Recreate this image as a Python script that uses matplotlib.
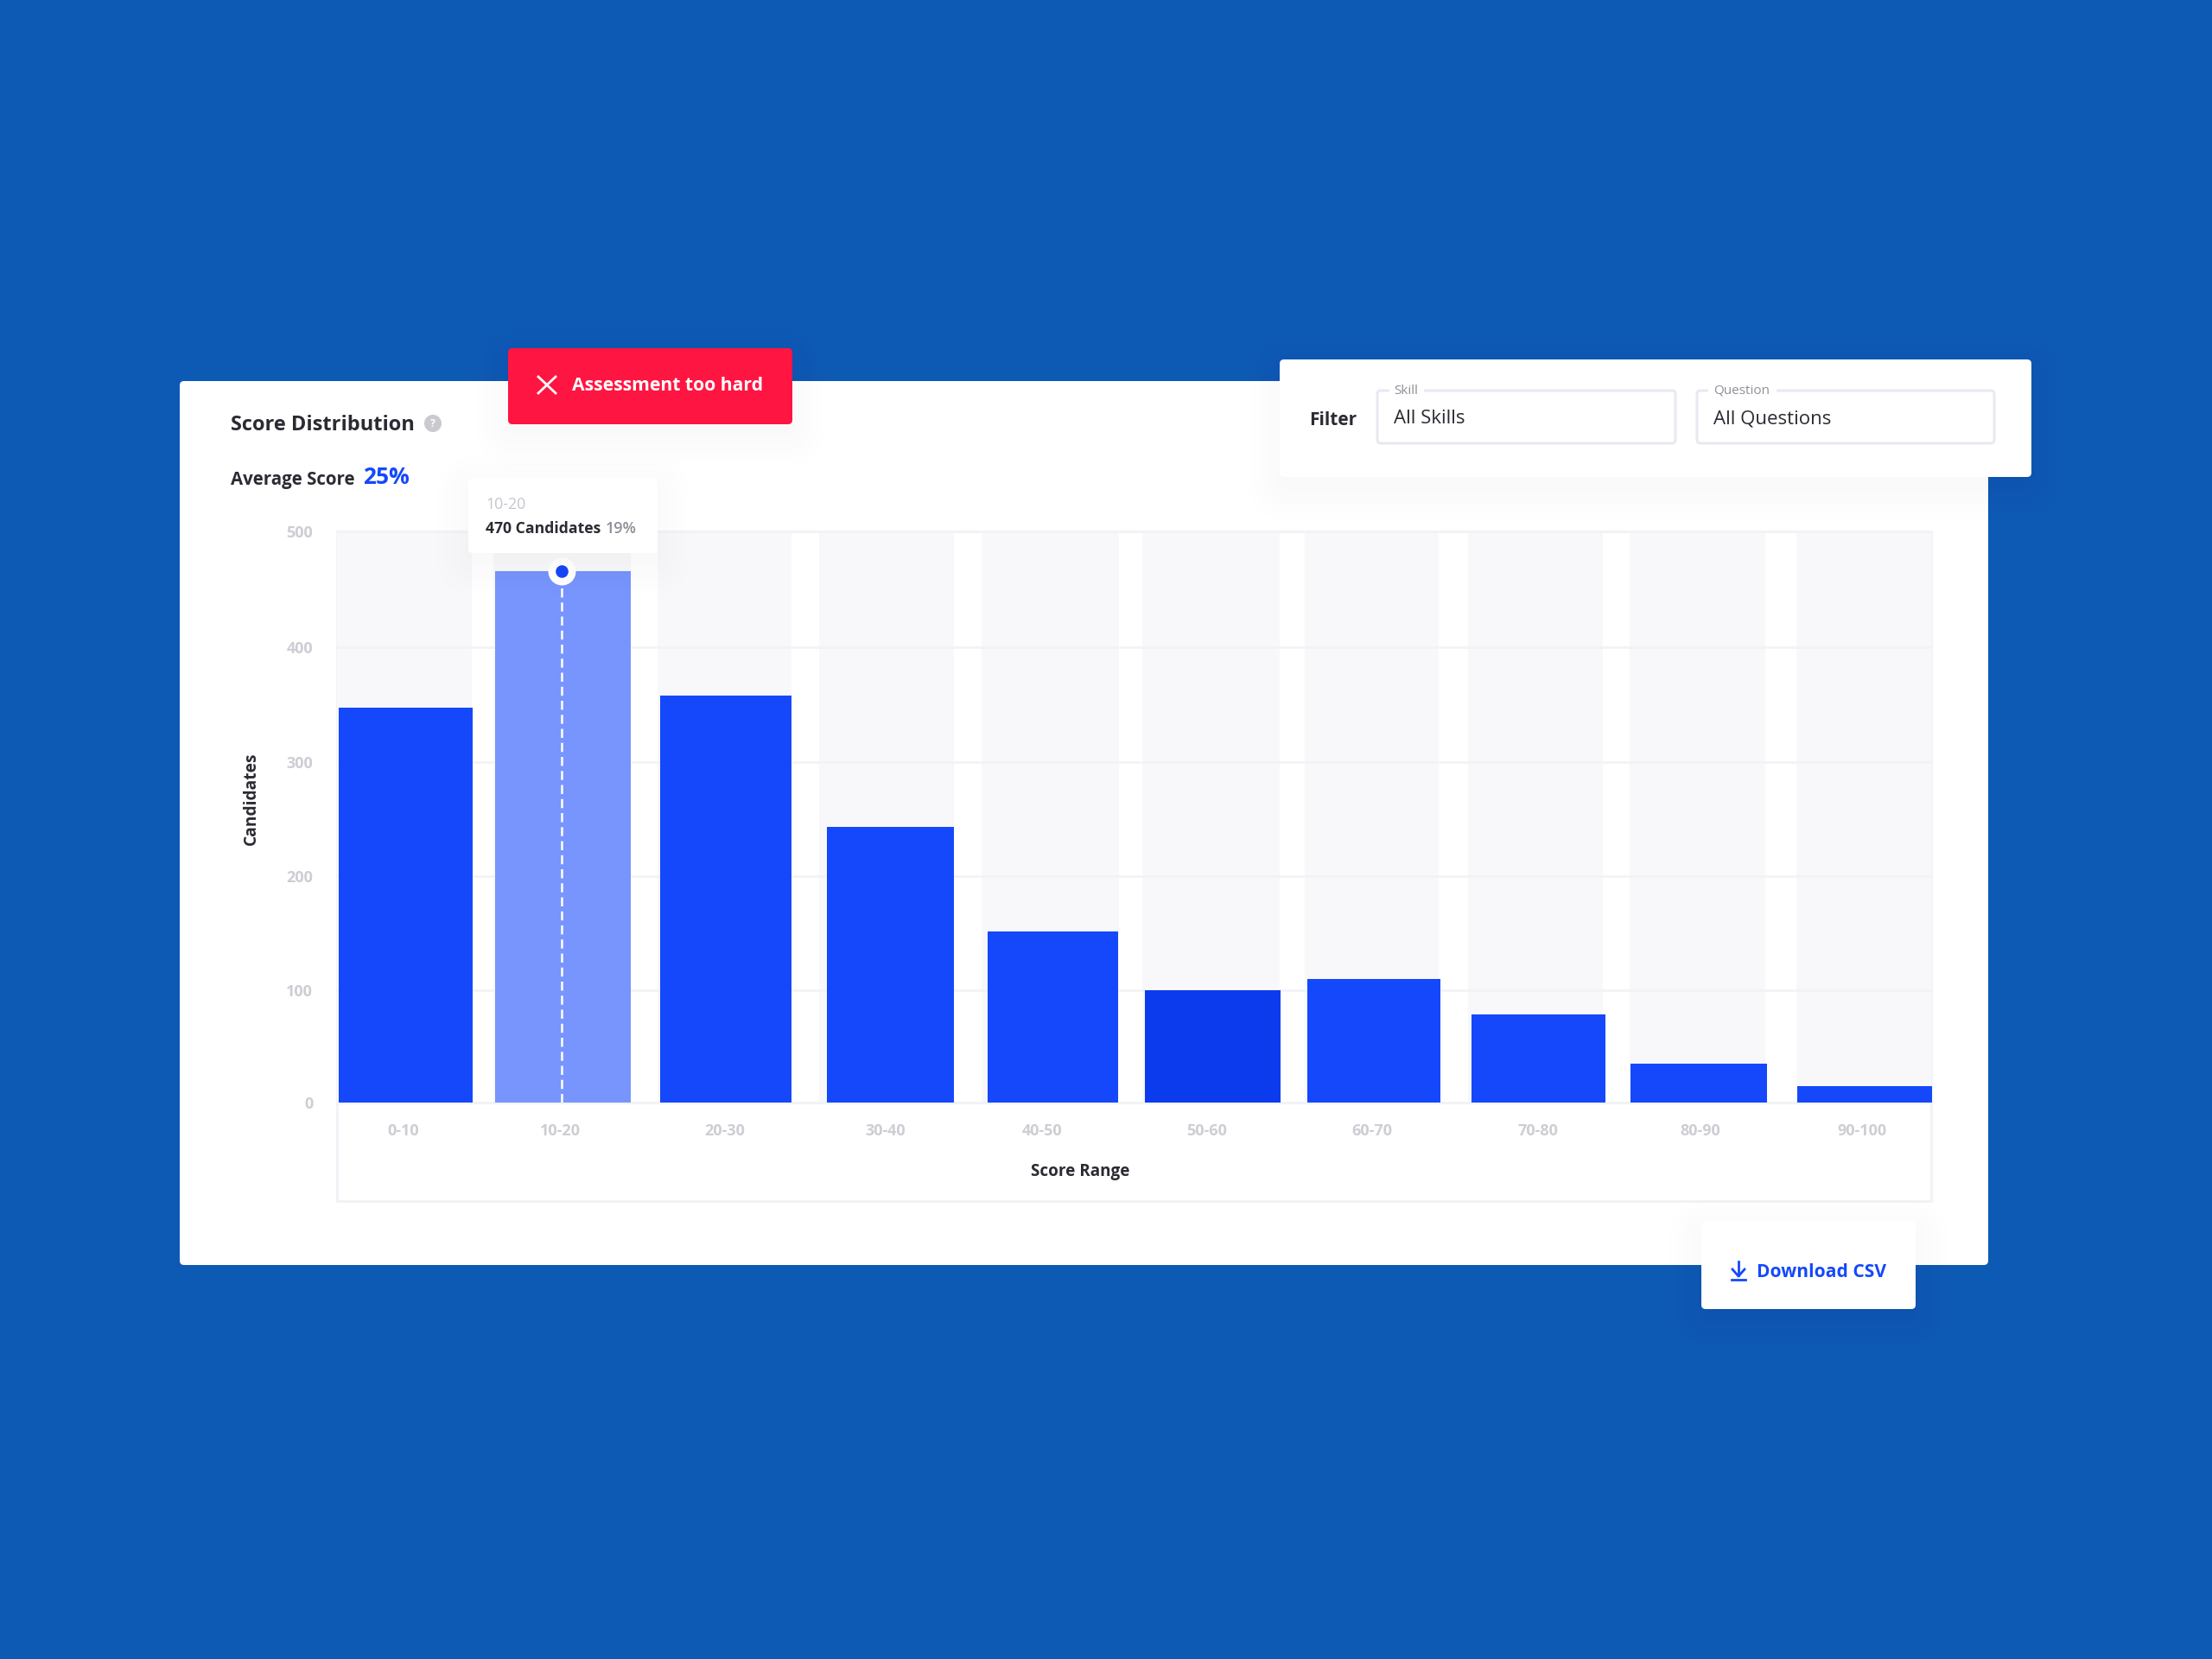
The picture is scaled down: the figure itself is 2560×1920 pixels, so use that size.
import matplotlib
matplotlib.use('Agg')
import matplotlib.pyplot as plt
from matplotlib.patches import FancyBboxPatch, Rectangle, Circle

plt.rcParams['font.family'] = ['Open Sans', 'Noto Sans', 'DejaVu Sans']

# data
score_ranges = ['0-10', '10-20', '20-30', '30-40', '40-50', '50-60', '60-70', '70-80', '80-90', '90-100']
candidates = [346, 465, 356, 241, 150, 98, 108, 77, 34, 14]
y_labels = ['0', '100', '200', '300', '400', '500']
# the grid of the picture is not quite even, so ticks sit where the lines are
y_ticks = [0, 98.3, 198.2, 298, 398.6, 500]

# layout, in pixels of the 2560x1920 picture
bar_center = [469.5, 651.5, 840, 1030.5, 1218.5, 1403.5, 1590, 1780.5, 1966, 2158]
bar_width = [155, 157, 152, 147, 151, 157, 154, 155, 158, 156]
col_left = [390, 571, 761, 948, 1136, 1322, 1510, 1699, 1886, 2079]
col_right = [546, 730, 916, 1104, 1295, 1481, 1665, 1855, 2043, 2235]
label_x = [467, 648, 839, 1025, 1206, 1397, 1588, 1780, 1968, 2155]

BG = '#0d5ab5'
BLUE = '#1548fb'
DARK_BAR = '#0c3bee'
LIGHT_BAR = '#7795fc'
RED = '#ff1541'
DARK = '#2b2b33'
TICK = '#cdcdd4'
LINE = '#f2f3f6'
COL = '#f8f8fa'

fig = plt.figure(figsize=(25.6, 19.2), dpi=100, facecolor=BG)


def px_axes(z):
    a = fig.add_axes([0, 0, 1, 1], zorder=z)
    a.set_xlim(0, 2560)
    a.set_ylim(1920, 0)
    a.axis('off')
    return a


def card(a, x0, y0, x1, y1, color='white', r=5, shadow=False, z=2):
    if shadow:
        # soft shadow from stacked see through boxes
        for grow in [40, 32, 24, 16, 8, 2]:
            a.add_patch(FancyBboxPatch((x0 - grow + 4, y0 - grow + 16), x1 - x0 + 2 * grow - 8, y1 - y0 + 2 * grow - 8,
                                       boxstyle='round,pad=0,rounding_size=%d' % (grow + 4),
                                       fc='#20264a', ec='none', alpha=0.005, zorder=z))
    a.add_patch(FancyBboxPatch((x0, y0), x1 - x0, y1 - y0, boxstyle='round,pad=0,rounding_size=%d' % r,
                               fc=color, ec='none', zorder=z + 0.1))


def label(a, x, y, s, size, color=DARK, weight='normal', ha='left', dy=1, **kw):
    return a.text(x, y + dy, s, fontsize=size, color=color, fontweight=weight, ha=ha, va='center', zorder=5, **kw)


# white card behind everything
back = px_axes(0)
card(back, 208, 441, 2301, 1464)
# frame that goes round the chart and its axis labels
back.add_patch(Rectangle((390, 615), 1845, 775, fc='white', ec=LINE, lw=2.2, zorder=3))
label(back, 267, 491, 'Score Distribution', 17, weight='bold')
back.add_patch(Circle((501, 490), 10, fc='#c9c9d0', ec='none', zorder=4))
label(back, 501, 490, '?', 9, color='white', ha='center', weight='bold', dy=0)
label(back, 267, 555, 'Average Score', 14.8, weight='bold')
label(back, 420, 551, '25%', 19, color=BLUE, weight='bold')
label(back, 291, 924, 'Candidates', 13.8, weight='bold', ha='center', rotation=90, dy=0)
label(back, 1250, 1355, 'Score Range', 13.6, weight='bold', ha='center')

# the chart
ax = fig.add_axes([390 / 2560, 1 - 1276 / 1920, (2236 - 390) / 2560, (1276 - 615) / 1920], zorder=1)
ax.patch.set_alpha(0)
ax.set_xlim(390, 2236)
ax.set_ylim(0, 500)
for i in range(len(score_ranges)):
    ax.axvspan(col_left[i], col_right[i], color=COL, lw=0, zorder=1)
ax.set_yticks(y_ticks)
ax.set_yticklabels(y_labels)
ax.grid(axis='y', color=LINE, lw=2, zorder=2)
colors = [BLUE] * len(candidates)
colors[1] = LIGHT_BAR
colors[5] = DARK_BAR
ax.bar(bar_center, candidates, width=bar_width, color=colors, zorder=3)
ax.set_xticks(label_x)
ax.set_xticklabels(score_ranges, fontsize=13, color=TICK, fontweight='bold')
ax.tick_params(axis='x', length=0, pad=17)
ax.tick_params(axis='y', length=0, pad=20, labelsize=13, labelcolor=TICK)
for t in ax.get_yticklabels():
    t.set_fontweight('bold')
for s in ax.spines.values():
    s.set_visible(False)
ax.spines['bottom'].set_visible(True)
ax.spines['bottom'].set_color(LINE)
ax.spines['bottom'].set_linewidth(2.2)
# dashed line and dot of the hovered bar
ax.plot([649.5, 649.5], [0, candidates[1]], color='white', lw=1.8, dashes=(4.2, 2.3), zorder=4)
ax.plot([649.5], [candidates[1]], 'o', ms=23, mfc='white', mec='none', zorder=5, clip_on=False)
ax.plot([649.5], [candidates[1]], 'o', ms=10.5, mfc=BLUE, mec='none', zorder=6, clip_on=False)

top = px_axes(2)

# tooltip
card(top, 542, 553, 761, 640, shadow=True)
label(top, 562, 584, '10-20', 12.8, color='#c5c5cd', dy=0)
label(top, 562, 612, '470 Candidates', 12.7, weight='bold', dy=0)
label(top, 701, 612, '19%', 13, color='#8f8f98', weight='semibold', dy=0)

# red banner
card(top, 588, 403, 917, 491, color=RED, shadow=True)
top.plot([623, 643], [436, 455], color='white', lw=2, zorder=5)
top.plot([643, 623], [436, 455], color='white', lw=2, zorder=5)
label(top, 662, 446, 'Assessment too hard', 15.2, color='white', weight='bold')

# filter box
card(top, 1481, 416, 2351, 552, shadow=True)
label(top, 1515, 486, 'Filter', 15, weight='bold')
for x0, x1, name, val, gap in [(1594, 1939, 'Skill', 'All Skills', (1608, 1648)),
                               (1964, 2308, 'Question', 'All Questions', (1977, 2056))]:
    top.add_patch(FancyBboxPatch((x0, 452), x1 - x0, 61, boxstyle='round,pad=0,rounding_size=4',
                                 fc='white', ec='#e8e9f2', lw=2.2, zorder=4))
    top.add_patch(Rectangle((gap[0], 446), gap[1] - gap[0], 12, fc='white', ec='none', zorder=4.1))
    label(top, x0 + 19, 451, name, 11, color='#8f8f98')
    label(top, x0 + 19, 483, val, 16, color=DARK, weight='medium', dy=2)

# download button
card(top, 1969, 1413, 2217, 1515, shadow=True)
top.plot([2012, 2012], [1460, 1476], color=BLUE, lw=2, zorder=5)
top.plot([2005, 2012, 2019], [1469, 1477, 1469], color=BLUE, lw=2, zorder=5)
top.plot([2004, 2020], [1481, 1481], color=BLUE, lw=2, zorder=5)
label(top, 2033, 1470, 'Download CSV', 15.1, color=BLUE, weight='bold', dy=2)

fig.savefig('out.png', dpi=100, facecolor=BG)
